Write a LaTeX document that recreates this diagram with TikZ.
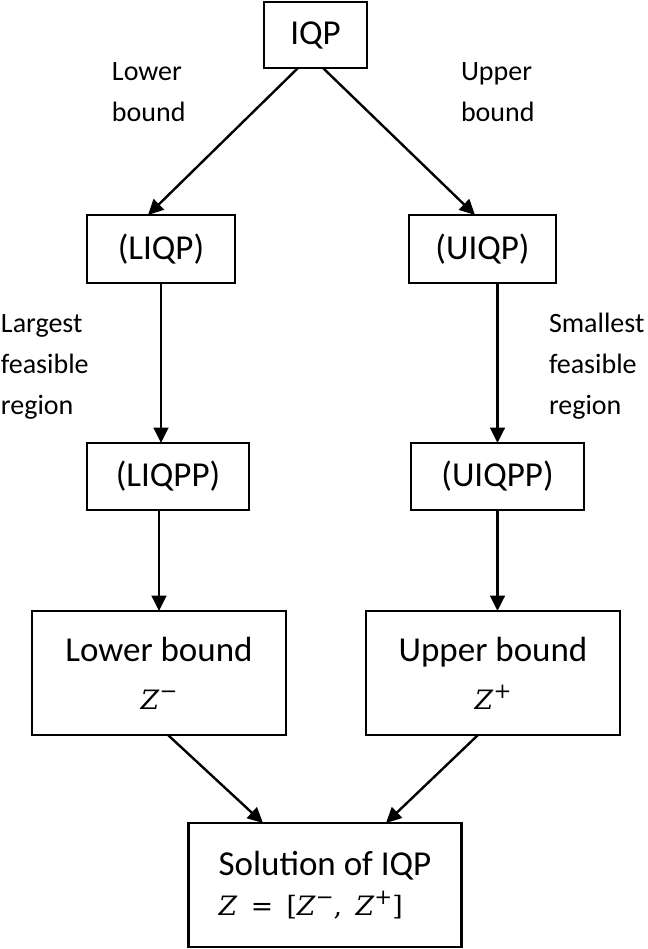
\documentclass[tikz,border=0pt]{standalone}
\usepackage{fontspec}
\setmainfont{Carlito}
\newfontfamily\zserif{DejaVu Serif}
\newcommand{\zsup}[1]{\raisebox{8pt}{\fontsize{16}{16}\selectfont #1}}
\usepackage{tikz}
\usetikzlibrary{positioning,arrows.meta}

\begin{document}
\begin{tikzpicture}[node distance=1cm, auto,
    >={Triangle[length=11.5pt,width=11pt]},
    every path/.style={line width=1.8pt},
    box/.style={rectangle, draw, line width=1.8pt, outer sep=0pt, inner sep=0pt, align=center, font=\fontsize{26.25}{30}\selectfont},
    lbl/.style={inner sep=0pt, outer sep=0pt, align=left, font=\fontsize{21}{30.75}\selectfont}]
    \useasboundingbox (-236.625pt,26.25pt) rectangle (249.375pt,-685.5pt);
    % Rectangle: IQP
    \node[box, minimum width=77.25pt, minimum height=49.5pt] (iqp) at (0,0) {IQP};
    % Rectangles: relaxed problems
    \node[box, minimum width=111pt, minimum height=51pt, below left=110.25pt and 21.75pt of iqp] (liqp) {(LIQP)};
    \node[box, minimum width=110.25pt, minimum height=51pt, below right=110.25pt and 31.5pt of iqp] (uiqp) {(UIQP)};
    \node[lbl, above=122.75pt of liqp.north west, anchor=north west, xshift=18.75pt] (lowerLabel) {\strut Lower\\bound};
    \node[lbl, above=122.75pt of uiqp.north west, anchor=north west, xshift=39pt] (upperLabel) {\strut Upper\\bound};
    % Rectangles: parametric problems
    \node[box, minimum width=121.5pt, minimum height=50.25pt, below=120pt of liqp.south west, anchor=north west] (liqpp) {(LIQPP)};
    \node[box, minimum width=129.75pt, minimum height=50.25pt, below=120pt of uiqp.south west, anchor=north west, xshift=1.5pt] (uiqpp) {(UIQPP)};
    \node[lbl, below=15.75pt of liqp.south west, anchor=north west, xshift=-64.5pt] (largestLabel) {\strut Largest\\feasible\\region};
    \node[lbl, below=15.75pt of uiqp.south east, anchor=north west, xshift=-5.25pt] (smallestLabel) {\strut Smallest\\feasible\\region};
    % Rectangles: bounds
    \node[box, minimum width=190.5pt, minimum height=93pt, below=75.75pt of liqpp, xshift=-6.75pt] (lbound) {Lower bound\\[6pt]{\zserif\fontsize{20}{24}\selectfont\textit{Z}\zsup{−}}};
    \node[box, minimum width=190.5pt, minimum height=93pt, right=60pt of lbound] (ubound) {Upper bound\\[6pt]{\zserif\fontsize{20}{24}\selectfont\textit{Z}\zsup{+}}};
    % Rectangle: Solution
    \node[box, minimum width=204.75pt, minimum height=93pt, below=66pt of lbound.south east, xshift=29.25pt, align=left] (sol) {Solution of IQP\\{\zserif\fontsize{20}{24}\selectfont\textit{Z}\hspace{10pt}=\hspace{10pt}[\textit{Z}\zsup{−},\hspace{10pt}\textit{Z}\zsup{+}]}};
    % Arrows
    \draw[->] ([xshift=-13.125pt]iqp.south) -- ([xshift=-9.75pt]liqp.north);
    \draw[->] ([xshift=5.625pt]iqp.south) -- ([xshift=-5.625pt]uiqp.north);
    \draw[->] (liqp) -- (liqp |- liqpp.north);
    \draw[->] (uiqpp |- uiqp.south) -- (uiqpp);
    \draw[->] (lbound |- liqpp.south) -- (lbound);
    \draw[->] (uiqpp) -- (uiqpp |- ubound.north);
    \draw[->] ([xshift=6.75pt]lbound.south) -- ([xshift=-46.5pt]sol.north);
    \draw[->] ([xshift=-11.25pt]ubound.south) -- ([xshift=45.75pt]sol.north);
\end{tikzpicture}
\end{document}
